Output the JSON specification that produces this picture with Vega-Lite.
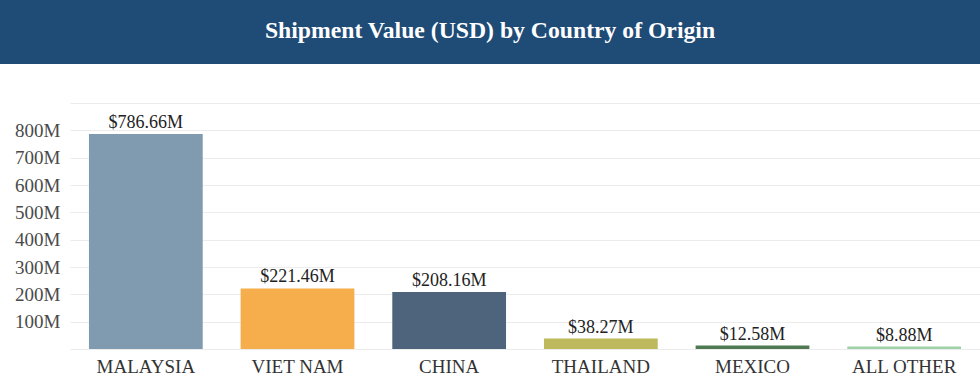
{
  "$schema": "https://vega.github.io/schema/vega-lite/v6.json",
  "background": "white",
  "padding": 0,
  "spacing": 39,
  "config": {
    "view": {"stroke": null},
    "font": "Liberation Serif",
    "concat": {"spacing": 0}
  },
  "datasets": {
    "ship": [
      {"country": "MALAYSIA", "value": 786660000},
      {"country": "VIET NAM", "value": 221460000},
      {"country": "CHINA", "value": 208160000},
      {"country": "THAILAND", "value": 38270000},
      {"country": "MEXICO", "value": 12580000},
      {"country": "ALL OTHER", "value": 8880000}
    ],
    "heading": [{"t": "Shipment Value (USD) by Country of Origin"}]
  },
  "vconcat": [
    {
      "width": 980,
      "height": 64,
      "data": {"name": "heading"},
      "view": {"fill": "#1f4b77", "stroke": null},
      "mark": {"type": "text", "color": "white", "font": "Liberation Serif", "fontSize": 23.7, "fontWeight": "bold", "align": "center", "baseline": "middle", "dy": -1},
      "encoding": {"text": {"field": "t"}}
    },
    {
      "spacing": 0,
      "hconcat": [
        {
          "width": 70,
          "height": 246,
          "data": {"name": "ship"},
          "mark": {"type": "point", "opacity": 0},
          "encoding": {
            "y": {
              "field": "value",
              "type": "quantitative",
              "scale": {"domain": [0, 900000000], "nice": false},
              "axis": {
                "title": null,
                "orient": "left",
                "offset": -62,
                "grid": false,
                "domain": false,
                "ticks": false,
                "labelPadding": 2,
                "values": [0, 100000000, 200000000, 300000000, 400000000, 500000000, 600000000, 700000000, 800000000, 900000000],
                "labelExpr": "datum.value == 0 || datum.value >= 900000000 ? '' : format(datum.value, '~s')",
                "labelFont": "Liberation Serif",
                "labelFontSize": 19,
                "labelColor": "#4a4a4a"
              }
            }
          }
        },
        {
          "width": 910,
          "height": 246,
          "data": {"name": "ship"},
          "transform": [
            {"calculate": "'$' + format(datum.value / 1000000, '.2f') + 'M'", "as": "label"}
          ],
          "encoding": {
            "x": {
              "field": "country",
              "type": "nominal",
              "sort": null,
              "scale": {"paddingInner": 0.25, "paddingOuter": 0.125},
              "axis": {
                "title": null,
                "labelAngle": 0,
                "domain": false,
                "ticks": false,
                "labelPadding": 8,
                "labelFont": "Liberation Serif",
                "labelFontSize": 19,
                "labelColor": "#333333"
              }
            },
            "y": {
              "field": "value",
              "type": "quantitative",
              "scale": {"domain": [0, 900000000], "nice": false},
              "axis": {
                "title": null,
                "labels": false,
                "ticks": false,
                "domain": false,
                "grid": true,
                "gridColor": "#ececec",
                "gridWidth": 1,
                "values": [0, 100000000, 200000000, 300000000, 400000000, 500000000, 600000000, 700000000, 800000000, 900000000]
              }
            }
          },
          "layer": [
            {
              "mark": {"type": "bar"},
              "encoding": {
                "color": {
                  "field": "country",
                  "type": "nominal",
                  "scale": {
                    "domain": ["MALAYSIA", "VIET NAM", "CHINA", "THAILAND", "MEXICO", "ALL OTHER"],
                    "range": ["#809aaf", "#f6ae4c", "#4d647c", "#bdb95c", "#4f7a51", "#9fd1a8"]
                  },
                  "legend": null
                }
              }
            },
            {
              "mark": {"type": "text", "baseline": "alphabetic", "dy": -6, "font": "Liberation Serif", "fontSize": 18, "color": "#222222"},
              "encoding": {"text": {"field": "label"}}
            }
          ]
        }
      ]
    }
  ]
}
